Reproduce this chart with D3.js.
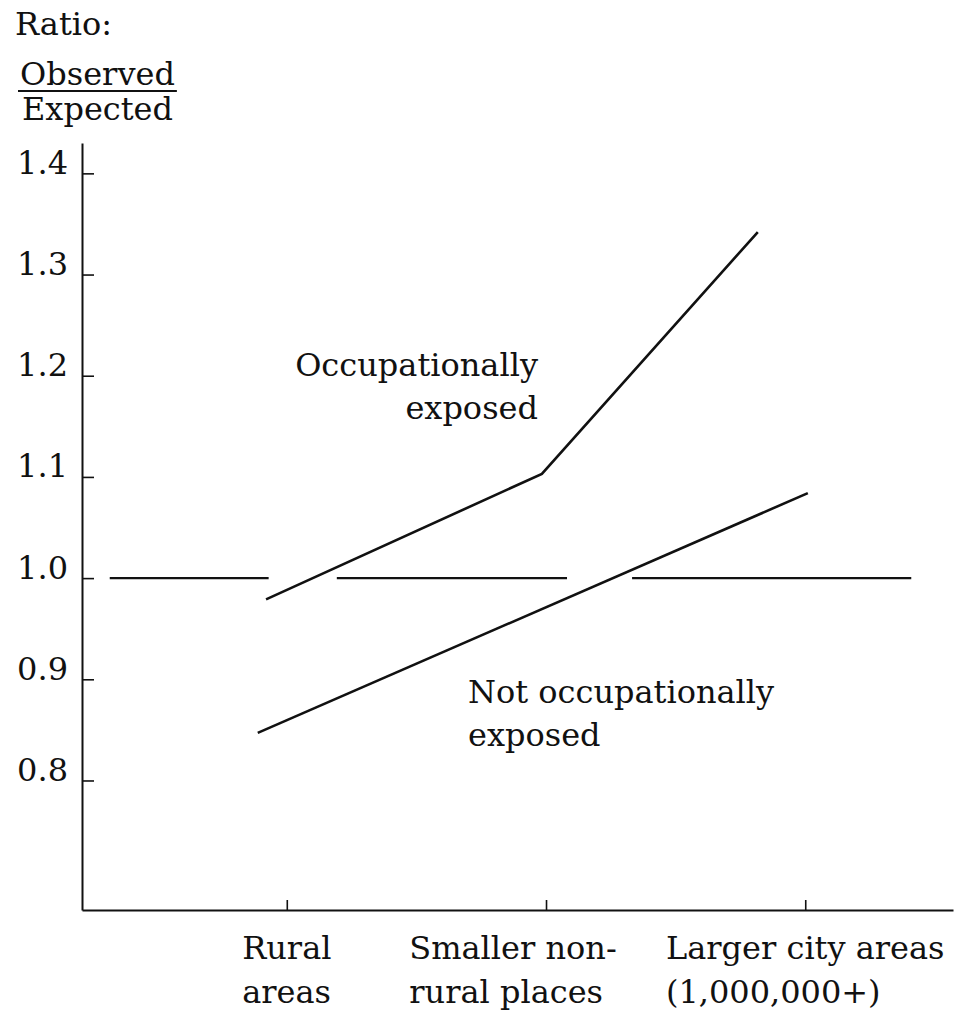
<!DOCTYPE html>
<html>
<head>
<meta charset="utf-8">
<script src="https://cdn.jsdelivr.net/npm/d3@7"></script>
<style>
  body { margin: 0; background: #fff; }
  svg text { font-family: "DejaVu Serif", serif; fill: #111; }
</style>
</head>
<body>
<script>
// categories along the bottom, each label on two lines
const categories = ["Rural", "Smaller", "Larger"];
const categoryLabels = [
  ["Rural", "areas"],
  ["Smaller non-", "rural places"],
  ["Larger city areas", "(1,000,000+)"]
];
const yTicks = [0.8, 0.9, 1.0, 1.1, 1.2, 1.3, 1.4];

// [category position, observed/expected ratio]
const occupational = [[-0.08, 0.979], [0.984, 1.103], [1.817, 1.342]];
const notOccupational = [[-0.112, 0.847], [2.01, 1.084]];
// the 1.0 reference line is drawn in three broken pieces
const referenceSegments = [[-0.683, -0.07], [0.193, 1.081], [1.332, 2.409]];
const referenceValue = 1.0;

const width = 958, height = 1015;
const fontSize = 32;

const svg = d3.select("body").append("svg")
  .attr("width", width)
  .attr("height", height);

const x = d3.scaleLinear().domain([-0.79, 2.57]).range([82, 953]);
const y = d3.scaleLinear().domain([0.672, 1.43]).range([910, 143]);

// y axis: ticks point inward, labels sit on the tick
const yAxis = svg.append("g")
  .attr("transform", "translate(" + x(-0.79) + ",0)")
  .call(d3.axisLeft(y)
    .tickValues(yTicks)
    .tickFormat(d3.format(".1f"))
    .tickSize(-12)
    .tickSizeOuter(0)
    .tickPadding(14));
yAxis.select(".domain").attr("stroke", "#111").attr("stroke-width", 2);
yAxis.selectAll(".tick line").attr("stroke", "#111").attr("stroke-width", 1.6);
yAxis.selectAll(".tick text")
  .attr("font-size", fontSize)
  .attr("font-family", "DejaVu Serif")
  .attr("fill", "#111")
  .attr("dy", "0.0em");

// x axis with short upward ticks
const xAxis = svg.append("g")
  .attr("transform", "translate(0," + y(0.672) + ")")
  .call(d3.axisBottom(x)
    .tickValues(d3.range(categories.length))
    .tickFormat("")
    .tickSize(-10)
    .tickSizeOuter(0));
xAxis.select(".domain").attr("stroke", "#111").attr("stroke-width", 2);
xAxis.selectAll(".tick line").attr("stroke", "#111").attr("stroke-width", 1.6);

// category labels: left-aligned block under each tick
const labelShift = [0, -33, 0];
categoryLabels.forEach((lines, i) => {
  const t = svg.append("text")
    .attr("font-size", fontSize)
    .attr("y", 959);
  lines.forEach((s, j) => {
    t.append("tspan").attr("dy", j === 0 ? 0 : 44).text(s);
  });
  const w = t.select("tspan").node().getComputedTextLength();
  const left = x(i) - w / 2 + labelShift[i];
  t.attr("x", left);
  t.selectAll("tspan").attr("x", left);
});

// reference line at 1.0
svg.append("g").selectAll("line")
  .data(referenceSegments)
  .join("line")
  .attr("x1", d => x(d[0]))
  .attr("x2", d => x(d[1]))
  .attr("y1", y(referenceValue))
  .attr("y2", y(referenceValue))
  .attr("stroke", "#111")
  .attr("stroke-width", 2.4);

const line = d3.line().x(d => x(d[0])).y(d => y(d[1]));

svg.append("path")
  .datum(occupational)
  .attr("d", line)
  .attr("fill", "none")
  .attr("stroke", "#111")
  .attr("stroke-width", 2.6);

svg.append("path")
  .datum(notOccupational)
  .attr("d", line)
  .attr("fill", "none")
  .attr("stroke", "#111")
  .attr("stroke-width", 2.6);

// series labels
function block(lines, px, py, anchor) {
  const t = svg.append("text")
    .attr("font-size", fontSize)
    .attr("text-anchor", anchor);
  lines.forEach((s, j) => {
    t.append("tspan").attr("x", px).attr("y", py + j * 43).text(s);
  });
}
block(["Occupationally", "exposed"], x(0.969), y(1.2), "end");
block(["Not occupationally", "exposed"], x(0.699), y(0.877), "start");

// y axis title: Ratio: Observed / Expected
svg.append("text").attr("x", 15).attr("y", 35).attr("font-size", fontSize).text("Ratio:");
const obs = svg.append("text").attr("x", 20).attr("y", 85).attr("font-size", fontSize).text("Observed");
svg.append("text").attr("x", 22).attr("y", 120).attr("font-size", fontSize).text("Expected");
const ow = obs.node().getComputedTextLength();
svg.append("line")
  .attr("x1", 18).attr("x2", 22 + ow)
  .attr("y1", 91).attr("y2", 91)
  .attr("stroke", "#111").attr("stroke-width", 2);
</script>
</body>
</html>
